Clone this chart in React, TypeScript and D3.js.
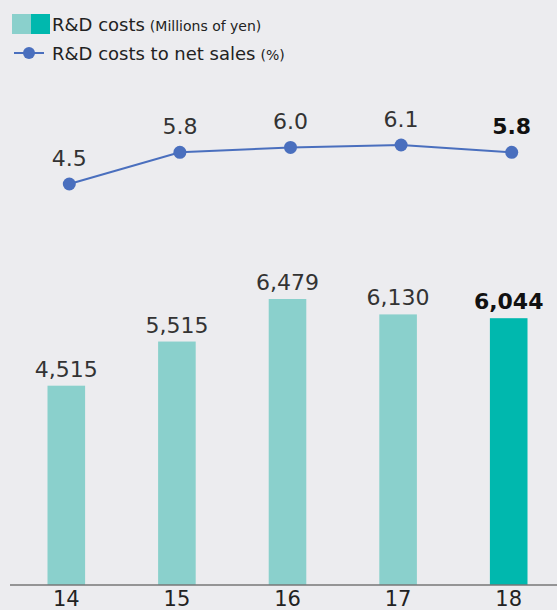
import React from 'react';
import * as d3 from 'd3';

const years = ['14', '15', '16', '17', '18'];
const rdCosts = [4515, 5515, 6479, 6130, 6044];
const rdRatio = [4.5, 5.8, 6.0, 6.1, 5.8];

const W = 557;
const H = 610;
const FONT = "'DejaVu Sans', 'Open Sans', sans-serif";

export default function App() {
  const x = d3.scaleBand<string>().domain(years).range([11, 564]).paddingInner(0.66).paddingOuter(0.33);
  const y = d3.scaleLinear().domain([0, 6479]).range([585, 299]);
  const yr = d3.scaleLinear().domain([4.5, 6.1]).range([184, 145]);
  const cx = (d: string) => (x(d) as number) + x.bandwidth() / 2;
  const last = years.length - 1;

  const line = d3
    .line<number>()
    .x((_, i) => cx(years[i]) + 3)
    .y((v) => yr(v));

  return (
    <svg width={W} height={H} style={{ position: 'absolute', left: 0, top: 0, background: '#ececef' }} fontFamily={FONT}>
      {/* legend */}
      <rect x={12} y={14} width={19} height={20} fill="#8ad0cc" />
      <rect x={31} y={14} width={19} height={20} fill="#00b8ae" />
      <text x={52} y={31} fontSize={18} fill="#222">
        <tspan>R&amp;D costs</tspan>
        <tspan fontSize={14} dx={5}>(Millions of yen)</tspan>
      </text>
      <line x1={14} x2={44} y1={53} y2={53} stroke="#4a6fbe" strokeWidth={2} />
      <circle cx={29} cy={53} r={6} fill="#4a6fbe" />
      <text x={52} y={60} fontSize={18} fill="#222">
        <tspan>R&amp;D costs to net sales</tspan>
        <tspan fontSize={14} dx={5}>(%)</tspan>
      </text>

      {/* bars */}
      {rdCosts.map((v, i) => (
        <g key={years[i]}>
          <rect
            x={x(years[i])}
            y={y(v)}
            width={x.bandwidth()}
            height={y(0) - y(v)}
            fill={i === last ? '#00b8ae' : '#8ad0cc'}
          />
          <text
            x={cx(years[i])}
            y={y(v) - 9}
            textAnchor="middle"
            fontSize={22}
            fontWeight={i === last ? 700 : 400}
            fill={i === last ? '#111' : '#333'}
          >
            {d3.format(',')(v)}
          </text>
        </g>
      ))}

      {/* axis */}
      <line x1={10} x2={W} y1={y(0)} y2={y(0)} stroke="#777" strokeWidth={1.5} />
      {years.map((d) => (
        <text key={d} x={cx(d)} y={606} textAnchor="middle" fontSize={21} fill="#222">
          {d}
        </text>
      ))}

      {/* ratio line */}
      <path d={line(rdRatio) || ''} fill="none" stroke="#4a6fbe" strokeWidth={2} />
      {rdRatio.map((v, i) => (
        <g key={'r' + i}>
          <circle cx={cx(years[i]) + 3} cy={yr(v)} r={6.5} fill="#4a6fbe" />
          <text
            x={cx(years[i]) + 3}
            y={yr(v) - 18}
            textAnchor="middle"
            fontSize={22}
            fontWeight={i === last ? 700 : 400}
            fill={i === last ? '#111' : '#333'}
          >
            {v.toFixed(1)}
          </text>
        </g>
      ))}
    </svg>
  );
}
